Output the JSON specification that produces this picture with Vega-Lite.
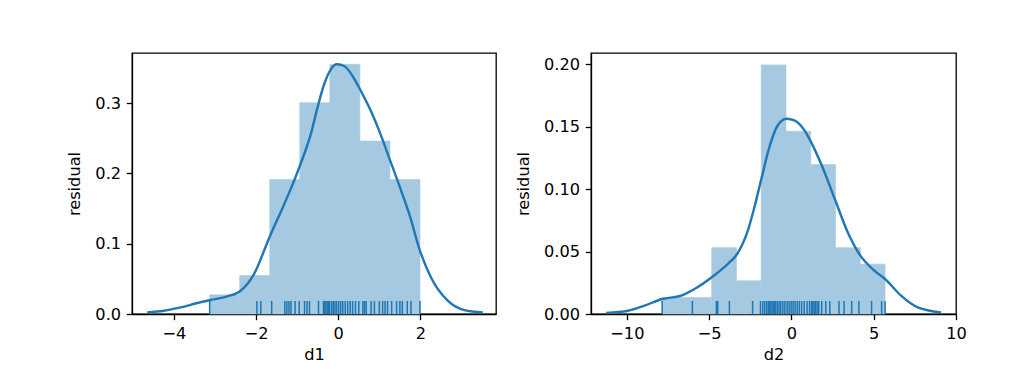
{
  "$schema": "https://vega.github.io/schema/vega-lite/v6.json",
  "background": "white",
  "padding": {"left": 65, "top": 52, "right": 0, "bottom": 0},
  "spacing": 17,
  "config": {
    "view": {"stroke": "#000", "strokeWidth": 1.3},
    "axis": {
      "grid": false,
      "labelFont": "DejaVu Sans", "labelFontSize": 16.2, "labelColor": "#000",
      "titleFont": "DejaVu Sans", "titleFontSize": 16.2, "titleFontWeight": "normal", "titleColor": "#000",
      "tickColor": "#000", "tickSize": 5.7, "tickWidth": 1.3,
      "domainColor": "#000", "domainWidth": 1.3,
      "labelPadding": 5.7, "labelFlush": false, "labelOverlap": false
    },
    "axisX": {"titlePadding": 4.5},
    "axisY": {"titlePadding": 12.5}
  },
  "datasets": {
    "hist1": [
      {"x0": -3.13, "x1": -2.399, "density": 0.0273},
      {"x0": -2.399, "x1": -1.667, "density": 0.0547},
      {"x0": -1.667, "x1": -0.936, "density": 0.1914},
      {"x0": -0.936, "x1": -0.204, "density": 0.3008},
      {"x0": -0.204, "x1": 0.527, "density": 0.3555},
      {"x0": 0.527, "x1": 1.259, "density": 0.2461},
      {"x0": 1.259, "x1": 1.99, "density": 0.1914}
    ],
    "rug1": [
      {"v": -3.13}, {"v": -1.98}, {"v": -1.885},
      {"v": -1.62}, {"v": -1.30}, {"v": -1.25}, {"v": -1.20}, {"v": -1.15}, {"v": -1.05}, {"v": -0.95},
      {"v": -0.82}, {"v": -0.76}, {"v": -0.70}, {"v": -0.48}, {"v": -0.36}, {"v": -0.33}, {"v": -0.30}, {"v": -0.27}, {"v": -0.25}, {"v": -0.23}, {"v": -0.21},
      {"v": -0.16}, {"v": -0.12}, {"v": -0.08}, {"v": -0.04}, {"v": 0.01}, {"v": 0.06}, {"v": 0.11}, {"v": 0.17}, {"v": 0.23}, {"v": 0.29}, {"v": 0.35}, {"v": 0.42}, {"v": 0.50},
      {"v": 0.60}, {"v": 0.64}, {"v": 0.68}, {"v": 0.80}, {"v": 0.88}, {"v": 1.00}, {"v": 1.08}, {"v": 1.14}, {"v": 1.20},
      {"v": 1.30}, {"v": 1.42}, {"v": 1.50}, {"v": 1.56}, {"v": 1.68}, {"v": 1.77}, {"v": 1.99}
    ],
    "kde1": [
      {"x": -4.65, "y": 0.0023}, {"x": -4.243, "y": 0.0047}, {"x": -3.837, "y": 0.0094},
      {"x": -3.43, "y": 0.0156}, {"x": -3.105, "y": 0.0199}, {"x": -2.70, "y": 0.0251},
      {"x": -2.375, "y": 0.0331}, {"x": -2.05, "y": 0.0568}, {"x": -1.676, "y": 0.109},
      {"x": -1.318, "y": 0.156}, {"x": -1.075, "y": 0.1895}, {"x": -0.904, "y": 0.2156},
      {"x": -0.668, "y": 0.256}, {"x": -0.505, "y": 0.2938}, {"x": -0.343, "y": 0.327},
      {"x": -0.18, "y": 0.3483}, {"x": -0.034, "y": 0.3554}, {"x": 0.145, "y": 0.353},
      {"x": 0.348, "y": 0.3388}, {"x": 0.551, "y": 0.3175}, {"x": 0.795, "y": 0.289},
      {"x": 0.998, "y": 0.2606}, {"x": 1.266, "y": 0.218}, {"x": 1.445, "y": 0.1895},
      {"x": 1.73, "y": 0.142}, {"x": 1.99, "y": 0.09}, {"x": 2.258, "y": 0.052},
      {"x": 2.665, "y": 0.019}, {"x": 3.07, "y": 0.0056}, {"x": 3.52, "y": 0.0023}
    ],
    "hist2": [
      {"x0": -7.857, "x1": -6.352, "density": 0.0133},
      {"x0": -6.352, "x1": -4.847, "density": 0.0133},
      {"x0": -4.847, "x1": -3.341, "density": 0.0531},
      {"x0": -3.341, "x1": -1.836, "density": 0.0266},
      {"x0": -1.836, "x1": -0.331, "density": 0.1993},
      {"x0": -0.331, "x1": 1.174, "density": 0.1462},
      {"x0": 1.174, "x1": 2.679, "density": 0.1196},
      {"x0": 2.679, "x1": 4.185, "density": 0.0531},
      {"x0": 4.185, "x1": 5.69, "density": 0.0399}
    ],
    "rug2": [
      {"v": -7.857}, {"v": -6.02}, {"v": -4.56}, {"v": -4.52}, {"v": -4.48}, {"v": -3.77},
      {"v": -2.36}, {"v": -1.88},
      {"v": -1.74}, {"v": -1.62}, {"v": -1.50}, {"v": -1.40}, {"v": -1.32}, {"v": -1.25}, {"v": -1.18}, {"v": -1.10}, {"v": -1.02}, {"v": -0.95}, {"v": -0.85}, {"v": -0.75}, {"v": -0.65}, {"v": -0.52}, {"v": -0.40},
      {"v": -0.26}, {"v": -0.14}, {"v": -0.02}, {"v": 0.10}, {"v": 0.22}, {"v": 0.35}, {"v": 0.48}, {"v": 0.62}, {"v": 0.78}, {"v": 0.95}, {"v": 1.10},
      {"v": 1.22}, {"v": 1.30}, {"v": 1.38}, {"v": 1.47}, {"v": 1.56}, {"v": 1.66}, {"v": 1.84}, {"v": 2.09}, {"v": 2.33},
      {"v": 2.89}, {"v": 3.20}, {"v": 3.66}, {"v": 4.10},
      {"v": 4.87}, {"v": 5.48}, {"v": 5.69}
    ],
    "kde2": [
      {"x": -11.26, "y": 0.0008}, {"x": -9.94, "y": 0.0026}, {"x": -8.93, "y": 0.0067},
      {"x": -7.857, "y": 0.012}, {"x": -6.70, "y": 0.0147}, {"x": -5.89, "y": 0.02},
      {"x": -4.84, "y": 0.0294}, {"x": -3.87, "y": 0.04}, {"x": -3.30, "y": 0.048},
      {"x": -2.65, "y": 0.0667}, {"x": -2.25, "y": 0.0854}, {"x": -1.80, "y": 0.1095},
      {"x": -1.34, "y": 0.1335}, {"x": -0.83, "y": 0.151}, {"x": -0.30, "y": 0.1562},
      {"x": 0.18, "y": 0.1549}, {"x": 0.79, "y": 0.1469}, {"x": 1.195, "y": 0.1375},
      {"x": 1.80, "y": 0.1202}, {"x": 2.67, "y": 0.0908}, {"x": 3.42, "y": 0.0654},
      {"x": 4.19, "y": 0.0467}, {"x": 5.04, "y": 0.0347}, {"x": 5.69, "y": 0.028},
      {"x": 6.66, "y": 0.0147}, {"x": 7.675, "y": 0.0053}, {"x": 9.09, "y": 0.0013}
    ]
  },
  "hconcat": [
    {
      "width": 364,
      "height": 261,
      "layer": [
        {
          "data": {"name": "hist1"},
          "mark": {"type": "rect", "color": "#a5c9e1", "stroke": "#a5c9e1", "strokeWidth": 0.6},
          "encoding": {
            "x": {"field": "x0", "type": "quantitative", "title": "d1",
                  "scale": {"domain": [-5.02, 3.84], "nice": false, "zero": false, "padding": 0},
                  "axis": {"values": [-4, -2, 0, 2], "format": "d"}},
            "x2": {"field": "x1"},
            "y": {"field": "density", "type": "quantitative", "title": "residual",
                  "scale": {"domain": [0, 0.3715], "nice": false, "padding": 0},
                  "axis": {"values": [0, 0.1, 0.2, 0.3], "format": ".1f"}},
            "y2": {"datum": 0}
          }
        },
        {
          "data": {"name": "rug1"},
          "mark": {"type": "rule", "color": "#1f77b4", "strokeWidth": 1.5},
          "encoding": {
            "x": {"field": "v", "type": "quantitative", "title": "d1"},
            "y": {"datum": 0, "type": "quantitative"},
            "y2": {"datum": 0.0186}
          }
        },
        {
          "data": {"name": "kde1"},
          "mark": {"type": "line", "color": "#1f77b4", "strokeWidth": 2.4, "interpolate": "monotone"},
          "encoding": {
            "x": {"field": "x", "type": "quantitative", "title": "d1"},
            "y": {"field": "y", "type": "quantitative", "title": "residual"}
          }
        }
      ]
    },
    {
      "width": 365,
      "height": 261,
      "layer": [
        {
          "data": {"name": "hist2"},
          "mark": {"type": "rect", "color": "#a5c9e1", "stroke": "#a5c9e1", "strokeWidth": 0.6},
          "encoding": {
            "x": {"field": "x0", "type": "quantitative", "title": "d2",
                  "scale": {"domain": [-12.18, 10], "nice": false, "zero": false, "padding": 0},
                  "axis": {"values": [-10, -5, 0, 5, 10], "format": "d"}},
            "x2": {"field": "x1"},
            "y": {"field": "density", "type": "quantitative", "title": "residual",
                  "scale": {"domain": [0, 0.2088], "nice": false, "padding": 0},
                  "axis": {"values": [0, 0.05, 0.1, 0.15, 0.2], "format": ".2f"}},
            "y2": {"datum": 0}
          }
        },
        {
          "data": {"name": "rug2"},
          "mark": {"type": "rule", "color": "#1f77b4", "strokeWidth": 1.5},
          "encoding": {
            "x": {"field": "v", "type": "quantitative", "title": "d2"},
            "y": {"datum": 0, "type": "quantitative"},
            "y2": {"datum": 0.01044}
          }
        },
        {
          "data": {"name": "kde2"},
          "mark": {"type": "line", "color": "#1f77b4", "strokeWidth": 2.4, "interpolate": "monotone"},
          "encoding": {
            "x": {"field": "x", "type": "quantitative", "title": "d2"},
            "y": {"field": "y", "type": "quantitative", "title": "residual"}
          }
        }
      ]
    }
  ]
}
